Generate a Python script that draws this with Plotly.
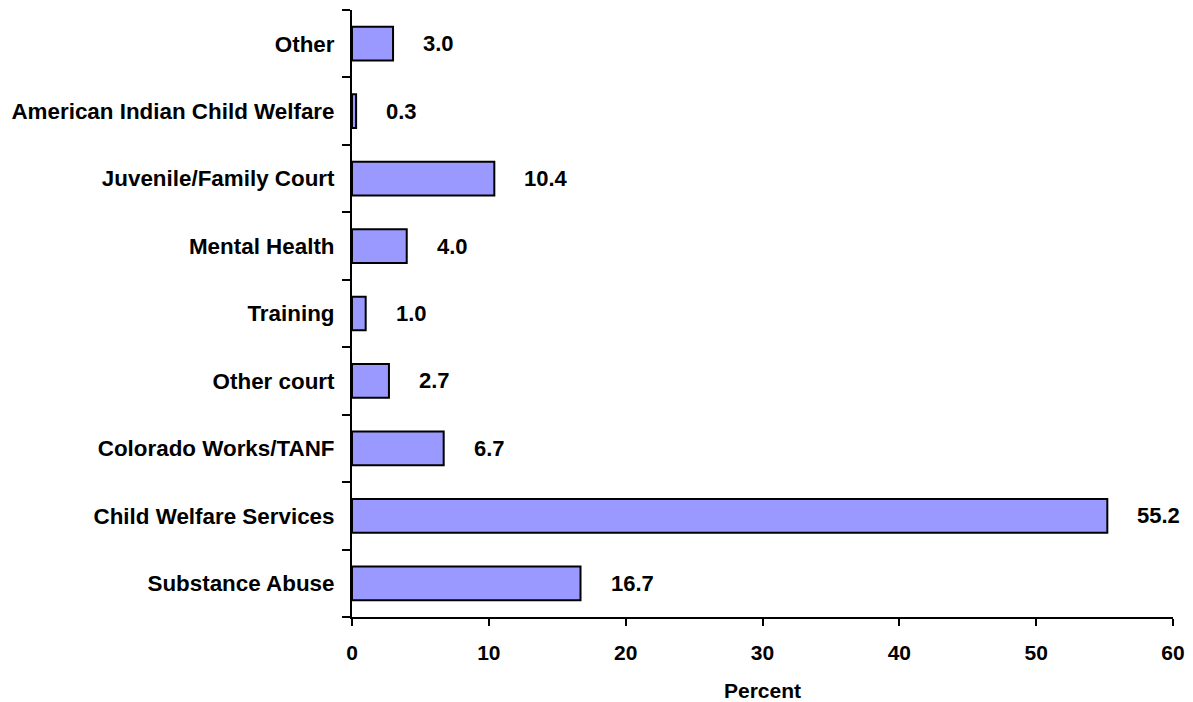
import plotly.graph_objects as go

categories = ["Substance Abuse", "Child Welfare Services", "Colorado Works/TANF",
              "Other court", "Training", "Mental Health", "Juvenile/Family Court",
              "American Indian Child Welfare", "Other"]
values = [16.7, 55.2, 6.7, 2.7, 1.0, 4.0, 10.4, 0.3, 3.0]
x_ticks = [0, 10, 20, 30, 40, 50, 60]
x_title = "Percent"

FONT = "Liberation Sans, Arial, sans-serif"

fig = go.Figure()
fig.add_trace(go.Bar(
    x=values, y=categories, orientation="h",
    marker=dict(color="#9999FF", line=dict(color="black", width=2)),
    hoverinfo="skip",
))

for c, v in zip(categories, values):
    fig.add_annotation(x=v, y=c, text=f"<b>{v:.1f}</b>", showarrow=False,
                       xanchor="left", yanchor="middle", xshift=28,
                       font=dict(family=FONT, size=22, color="black"))

fig.add_annotation(x=0.5, y=0, xref="paper", yref="paper", text=f"<b>{x_title}</b>",
                   showarrow=False, xanchor="center", yanchor="middle", yshift=-73,
                   font=dict(family=FONT, size=21, color="black"))

fig.update_layout(
    width=1193, height=702,
    margin=dict(l=352, r=20, t=10, b=85),
    paper_bgcolor="white", plot_bgcolor="white",
    bargap=0.5, showlegend=False,
    font=dict(family=FONT, color="black"),
)
fig.update_xaxes(
    range=[0, 60], tickvals=x_ticks, ticktext=[f"<b>{t}</b>" for t in x_ticks],
    showline=True, linecolor="black", linewidth=2,
    ticks="outside", ticklen=7, tickwidth=2, tickcolor="black",
    ticklabelstandoff=9, automargin=False,
    showgrid=False, zeroline=False,
    tickfont=dict(family=FONT, size=21, color="black"),
)
fig.update_yaxes(
    type="category", categoryorder="array", categoryarray=categories,
    range=[-0.5, 8.5],
    tickvals=categories, ticktext=[f"<b>{c}</b>" for c in categories],
    tickson="boundaries", automargin=False,
    showline=True, linecolor="black", linewidth=2,
    ticks="outside", ticklen=8, tickwidth=2, tickcolor="black",
    ticklabelstandoff=11,
    showgrid=False, zeroline=False,
    tickfont=dict(family=FONT, size=22.4, color="black"),
)

fig.write_html("out.html")
